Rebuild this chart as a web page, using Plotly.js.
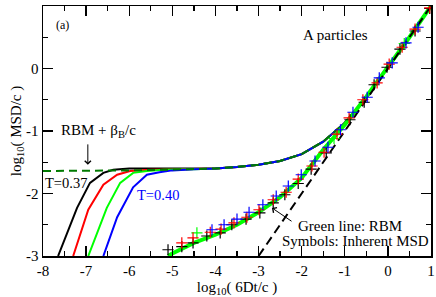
<!DOCTYPE html>
<html><head><meta charset="utf-8">
<script src="https://cdn.plot.ly/plotly-3.0.1.min.js"></script>
<style>html,body{margin:0;padding:0;background:#fff}#c{width:436px;height:297px}</style>
</head><body><div id="c"></div>
<script>
// ---- data ----
const commonX = [-4.5,-4,-3.5,-3,-2.5,-2,-1.5,-1,-0.5,0,0.5,1];
const commonY = [-1.61,-1.60,-1.575,-1.54,-1.48,-1.37,-1.17,-0.87,-0.47,0.02,0.5,1.0];

const blackX = [-7.65,-7.21,-6.91,-6.6,-6.37,-6.0,-5.5,-5.0];
const blackY = [-3,-2.23,-1.83,-1.67,-1.62,-1.60,-1.60,-1.60];
const redX = [-7.30,-6.95,-6.6,-6.28,-5.98,-5.5,-5.0];
const redY = [-3,-2.26,-1.86,-1.70,-1.64,-1.62,-1.615];
const greenX = [-6.95,-6.52,-6.21,-5.91,-5.59,-5.2];
const greenY = [-3,-2.23,-1.83,-1.67,-1.64,-1.62];
const blueX = [-6.6,-6.28,-5.91,-5.59,-5.3,-5.0];
const blueY = [-3,-2.38,-1.9,-1.70,-1.66,-1.63];

const rbmBetaX = [-8,-7,-6.5,-6,-5.5,-5];
const rbmBetaY = [-1.64,-1.64,-1.635,-1.63,-1.625,-1.62];

const rbmX = [-5.1,-5,-4.5,-4,-3.5,-3,-2.5,-2,-1.5,-1,-0.5,0,0.5,1];
const rbmY = [-3.0,-2.96,-2.79,-2.66,-2.50,-2.30,-2.06,-1.75,-1.30,-0.90,-0.45,0.02,0.5,1.0];

const diffX = [-3,1];
const diffY = [-3,1];

const symBlackX = [-5.10,-4.78,-4.52,-4.2,-3.89,-3.62,-3.29,-2.97,-2.66,-2.39,-2.08,-1.78,-1.43,-0.88,-0.55,-0.32,-0.02,0.28,0.63,0.97];
const symBlackY = [-2.90,-2.85,-2.79,-2.68,-2.63,-2.50,-2.41,-2.31,-2.15,-2.02,-1.84,-1.61,-1.35,-0.82,-0.54,-0.26,0.02,0.31,0.60,0.96];
const symRedX = [-4.78,-4.52,-4.12,-3.87,-3.57,-3.27,-2.99,-2.66,-2.36,-2.08,-1.76,-1.48,-1.18,-0.9,-0.58,-0.25,0.03,0.33,0.63,0.97];
const symRedY = [-2.79,-2.71,-2.62,-2.57,-2.47,-2.38,-2.26,-2.10,-1.98,-1.77,-1.56,-1.34,-1.05,-0.79,-0.50,-0.23,0.07,0.34,0.63,0.97];
const symGreenX = [-4.43,-1.25,0.38];
const symGreenY = [-2.63,-1.12,0.40];
const symBlueX = [-4.08,-3.8,-3.5,-3.22,-2.9,-2.59,-2.31,-2.01,-1.69,-1.39,-1.1,-0.81,-0.48,-0.2,0.10,0.42,0.70];
const symBlueY = [-2.58,-2.50,-2.41,-2.30,-2.18,-2.04,-1.88,-1.70,-1.48,-1.26,-0.98,-0.70,-0.46,-0.15,0.09,0.41,0.66];

const xTickVals = [-8,-7,-6,-5,-4,-3,-2,-1,0,1];
const xTickText = ['-8','-7','-6','-5','-4','-3','-2','-1','0','1'];
const yTickVals = [-3,-2,-1,0,1];
const yTickText = ['-3','-2','-1','0','1'];

// ---- build ----
const F = 'Liberation Serif, Times New Roman, serif';
function line(x, y, color, width, dash) {
  return {x, y, mode:'lines', type:'scatter', line:{color, width, dash: dash||'solid'}, hoverinfo:'skip'};
}
function sym(x, y, color) {
  return {x, y, mode:'markers', type:'scatter', marker:{symbol:'cross-thin-open', size:8, color, line:{color, width:1.2}}, hoverinfo:'skip'};
}
const traces = [
  line(blackX.concat(commonX), blackY.concat(commonY), '#000000', 2),
  line(redX.concat(commonX), redY.concat(commonY), '#ff0000', 2),
  line(greenX.concat(commonX), greenY.concat(commonY), '#00ff00', 2),
  line(blueX.concat(commonX), blueY.concat(commonY), '#0000ff', 2),
  line(rbmBetaX.concat(commonX), rbmBetaY.concat(commonY), '#007a00', 2, '8px,5px'),
  line(rbmX, rbmY, '#00ff00', 4),
  line(diffX, diffY, '#000000', 2, '9px,5px'),
  sym(symBlackX, symBlackY, '#000000'),
  sym(symGreenX, symGreenY, '#00ff00'),
  sym(symRedX, symRedY, '#ff0000'),
  sym(symBlueX, symBlueY, '#0000ff')
];

function ax(vals, text, range, title, standoff) {
  return {
    range, tickmode:'array', tickvals: vals, ticktext: text,
    ticks:'inside', ticklen:10, tickwidth:1.3, tickcolor:'#000',
    minor:{ticks:'inside', ticklen:5, tickwidth:1.3, tickcolor:'#000', tickmode:'linear', tick0:0, dtick:0.5},
    mirror:'allticks', showline:true, linecolor:'#000', linewidth:1.5,
    showgrid:false, zeroline:false,
    tickfont:{family:F, size:15, color:'#000'},
    title:{text:title, font:{family:F, size:15, color:'#000'}, standoff}
  };
}

const layout = {
  width:436, height:297,
  margin:{l:43, r:5, t:6, b:41},
  paper_bgcolor:'#fff', plot_bgcolor:'#fff',
  showlegend:false,
  xaxis: ax(xTickVals, xTickText, [-8,1], 'log<sub>10</sub>( 6Dt/c )', 2),
  yaxis: ax(yTickVals, yTickText, [-3,1], 'log<sub>10</sub>( MSD/c )', 0),
  font:{family:F, color:'#000'},
  annotations:[
    {x:-7.54, y:0.70, xref:'x', yref:'y', text:'(a)', showarrow:false, font:{family:F, size:12, color:'#000'}},
    {x:-1.22, y:0.54, xref:'x', yref:'y', text:'A particles', showarrow:false, font:{family:F, size:15, color:'#000'}},
    {x:-6.72, y:-1.0, xref:'x', yref:'y', text:'RBM + β<sub>B</sub>/c', showarrow:false, font:{family:F, size:15, color:'#000'}},
    {x:-7.47, y:-1.83, xref:'x', yref:'y', text:'T=0.37', showarrow:false, font:{family:F, size:14.5, color:'#000'}},
    {x:-5.33, y:-2.02, xref:'x', yref:'y', text:'T=0.40', showarrow:false, font:{family:F, size:14.5, color:'#0000ff'}},
    {x:-2.13, y:-2.52, xref:'x', yref:'y', xanchor:'left', text:'Green line: RBM', showarrow:false, font:{family:F, size:15, color:'#000'}},
    {x:-2.50, y:-2.76, xref:'x', yref:'y', xanchor:'left', text:'Symbols: Inherent MSD', showarrow:false, font:{family:F, size:15, color:'#000'}},
    {x:-6.96, y:-1.54, ax:-6.96, ay:-1.19, xref:'x', yref:'y', axref:'x', ayref:'y', text:'', showarrow:true, arrowhead:4, arrowsize:1.2, arrowwidth:1, arrowcolor:'#000'},
    {x:-2.69, y:-2.23, ax:-2.20, ay:-2.46, xref:'x', yref:'y', axref:'x', ayref:'y', text:'', showarrow:true, arrowhead:4, arrowsize:1.2, arrowwidth:1, arrowcolor:'#000'}
  ]
};
Plotly.newPlot('c', traces, layout, {staticPlot:true, displayModeBar:false});
</script>
</body></html>
